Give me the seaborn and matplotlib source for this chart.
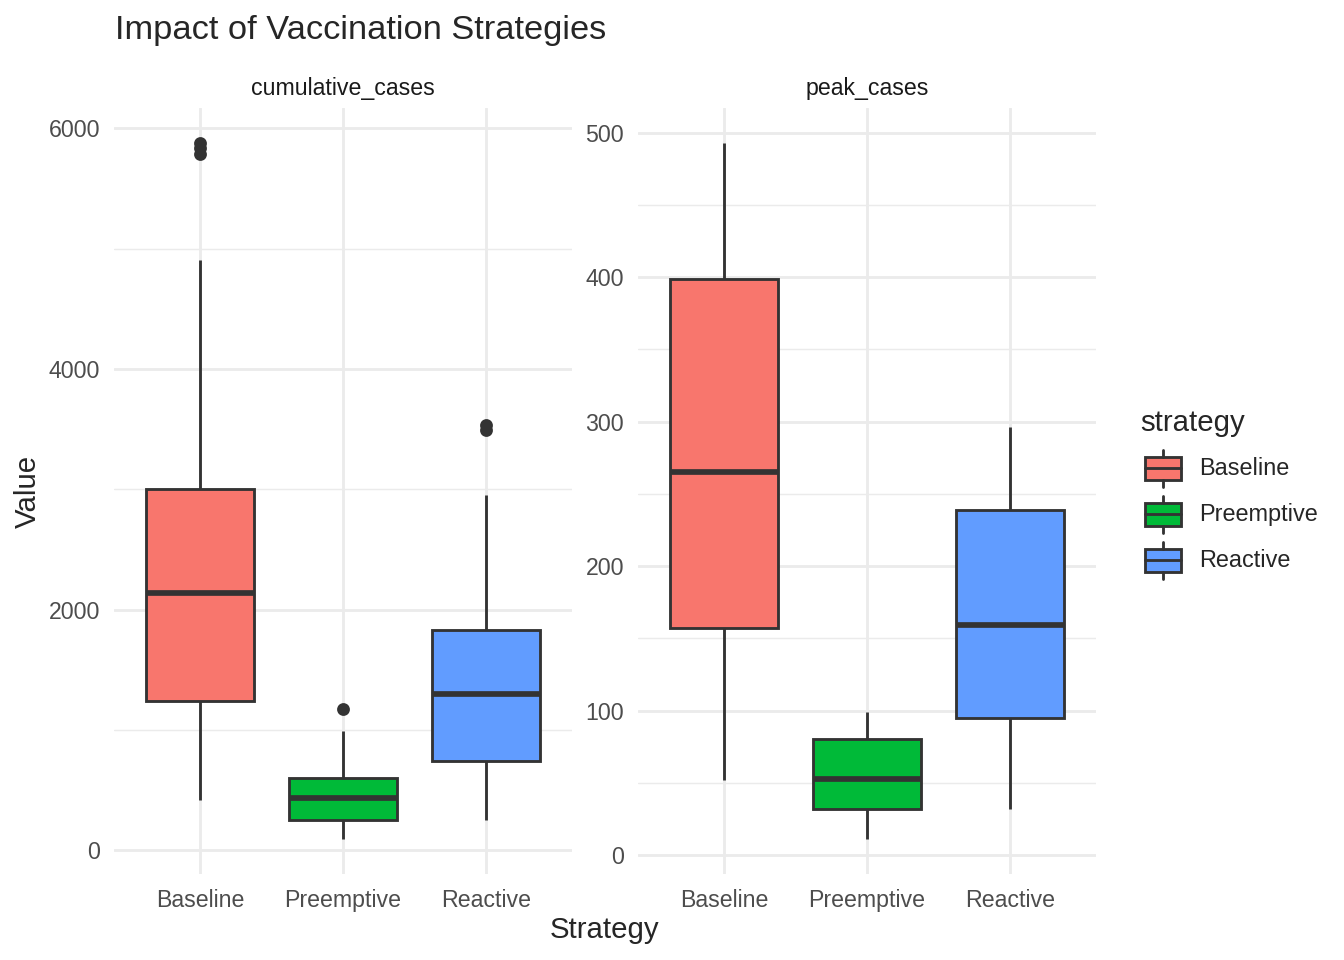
import matplotlib
matplotlib.use('Agg')
import matplotlib.pyplot as plt
from matplotlib.legend_handler import HandlerBase
from matplotlib.lines import Line2D
from matplotlib.patches import Patch, Rectangle
from matplotlib.ticker import MultipleLocator
import pandas as pd
import seaborn as sns

strategies = ['Baseline', 'Preemptive', 'Reactive']
colors = ['#F8766D', '#00BA38', '#619CFF']

# values (quartiles, whisker ends, outliers)
cumulative_baseline = [420, 700, 950, 1150, 1240, 1500, 1750, 1950, 2140,
                       2400, 2650, 2850, 3000, 4910, 5790, 5840, 5880]
cumulative_preemptive = [92, 150, 200, 230, 250, 300, 350, 400, 433,
                         480, 530, 570, 600, 750, 850, 992, 1175]
cumulative_reactive = [250, 400, 550, 680, 742, 900, 1050, 1200, 1300,
                       1450, 1600, 1750, 1833, 2400, 2950, 3490, 3535]
peak_baseline = [52, 80, 110, 140, 157, 190, 220, 245, 265,
                 300, 335, 370, 399, 420, 450, 475, 493]
peak_preemptive = [11, 18, 24, 29, 32, 38, 44, 49, 53,
                   60, 67, 74, 80, 85, 90, 95, 99]
peak_reactive = [32, 50, 70, 85, 95, 110, 130, 145, 159,
                 180, 200, 220, 239, 255, 270, 285, 296]

metrics = {
    'cumulative_cases': [cumulative_baseline, cumulative_preemptive,
                         cumulative_reactive],
    'peak_cases': [peak_baseline, peak_preemptive, peak_reactive],
}
major_step = {'cumulative_cases': 2000, 'peak_cases': 100}

rows = [{'metric': m, 'strategy': s, 'value': v}
        for m, groups in metrics.items()
        for s, vals in zip(strategies, groups)
        for v in vals]
df = pd.DataFrame(rows)

sns.set_theme(style='white')
plt.rcParams['font.family'] = ['Liberation Sans', 'DejaVu Sans']

LW = 1.07
EDGE = '#333333'


class BoxKey(HandlerBase):
    def create_artists(self, legend, orig, xdescent, ydescent, width, height,
                       fontsize, trans):
        x0, y0 = -xdescent, -ydescent
        cx = x0 + width / 2
        box = Rectangle((x0 + 0.1 * width, y0 + 0.25 * height),
                        0.8 * width, 0.5 * height,
                        facecolor=orig.get_facecolor(), edgecolor=EDGE,
                        linewidth=LW, transform=trans)
        lo = Line2D([cx, cx], [y0 + 0.1 * height, y0 + 0.25 * height],
                    color=EDGE, lw=LW, transform=trans)
        hi = Line2D([cx, cx], [y0 + 0.75 * height, y0 + 0.9 * height],
                    color=EDGE, lw=LW, transform=trans)
        med = Line2D([x0 + 0.1 * width, x0 + 0.9 * width],
                     [y0 + 0.5 * height] * 2, color=EDGE, lw=LW,
                     transform=trans)
        return [box, lo, hi, med]


fig = plt.figure(figsize=(7, 5), dpi=192)
W, H = 1344, 960
panels = {'cumulative_cases': [114 / W, 86 / H, 458 / W, 766 / H],
          'peak_cases': [638 / W, 86 / H, 458 / W, 766 / H]}

for metric, rect in panels.items():
    ax = fig.add_axes(rect)
    sub = df[df['metric'] == metric]
    sns.boxplot(data=sub, x='strategy', y='value', hue='strategy',
                order=strategies, hue_order=strategies,
                palette=colors, saturation=1, width=0.75, legend=False,
                linecolor=EDGE, linewidth=LW, showcaps=False,
                medianprops=dict(linewidth=2 * LW, color=EDGE),
                fliersize=3.8,
                flierprops=dict(marker='o', markerfacecolor=EDGE,
                                markeredgecolor=EDGE, markersize=3.8),
                ax=ax)
    lo, hi = sub['value'].min(), sub['value'].max()
    pad = 0.05 * (hi - lo)
    ax.set_ylim(lo - pad, hi + pad)
    ax.set_xlim(-0.6, 2.6)
    ax.yaxis.set_major_locator(MultipleLocator(major_step[metric]))
    ax.yaxis.set_minor_locator(MultipleLocator(major_step[metric] / 2))
    ax.set_axisbelow(True)
    ax.grid(which='major', color='#EBEBEB', linewidth=LW)
    ax.grid(which='minor', axis='y', color='#EBEBEB', linewidth=LW / 2)
    for s in ax.spines.values():
        s.set_visible(False)
    ax.tick_params(which='both', length=0, labelsize=8.7,
                   labelcolor='#4D4D4D')
    ax.tick_params(axis='x', pad=5.6)
    ax.tick_params(axis='y', pad=5.2)
    ax.set_xlabel('')
    ax.set_ylabel('')
    ax.set_title(metric, fontsize=8.7, color='#1A1A1A', pad=5)

fig.text(115 / W, 1 - 30 / H, 'Impact of Vaccination Strategies',
         fontsize=12.9, ha='left', va='center')
fig.text(605 / W, 1 - 930 / H, 'Strategy', fontsize=11,
         ha='center', va='center')
fig.text(28 / W, 0.4885, 'Value', fontsize=11, rotation=90,
         ha='center', va='center')

handles = [Patch(facecolor=c) for c in colors]
leg = fig.legend(handles, strategies, title='strategy',
                 loc='center left', bbox_to_anchor=(1140 / W, 0.483),
                 frameon=False, fontsize=8.8, title_fontsize=11,
                 handlelength=1.96, handleheight=2.645, labelspacing=0,
                 handletextpad=0.58, borderpad=0, borderaxespad=0,
                 alignment='left', handler_map={Patch: BoxKey()})
leg._legend_box.sep = 3

fig.savefig('out.png', dpi=192)
